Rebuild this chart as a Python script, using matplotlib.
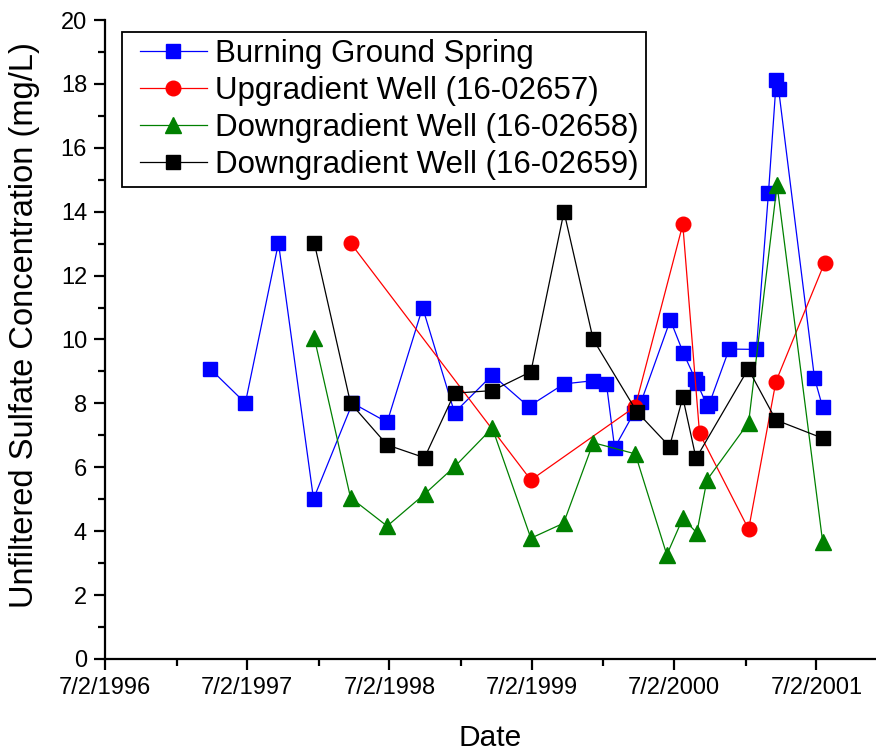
import matplotlib
matplotlib.use("Agg")
import matplotlib.pyplot as plt
import matplotlib.dates as mdates
from matplotlib.lines import Line2D
from matplotlib.legend_handler import HandlerLine2D
import pandas as pd
from matplotlib.ticker import FixedLocator, MultipleLocator

plt.rcParams['font.family'] = ['Liberation Sans', 'DejaVu Sans']

bgs_dates = ["1997-03-29", "1997-06-27", "1997-09-20", "1997-12-19", "1998-03-29",
             "1998-06-26", "1998-09-25", "1998-12-16", "1999-03-23", "1999-06-24",
             "1999-09-23", "1999-12-07", "2000-01-10", "2000-01-31", "2000-03-20",
             "2000-04-08", "2000-06-22", "2000-07-25", "2000-08-25", "2000-08-29",
             "2000-09-25", "2000-10-01", "2000-11-20", "2001-01-29", "2001-03-01",
             "2001-03-21", "2001-03-27", "2001-06-27", "2001-07-18"]
bgs_vals = [9.08, 8.01, 13.02, 5.01, 8.01, 7.41, 11.0, 7.71, 8.89, 7.90,
            8.61, 8.71, 8.61, 6.61, 7.69, 8.05, 10.61, 9.59, 8.76, 8.65,
            7.92, 8.02, 9.70, 9.69, 14.6, 18.12, 17.83, 8.80, 7.88]

up_dates = ["1998-03-24", "1999-06-30", "2000-03-24", "2000-07-24", "2000-09-05",
            "2001-01-09", "2001-03-20", "2001-07-23"]
up_vals = [13.02, 5.60, 7.90, 13.6, 7.06, 4.06, 8.68, 12.40]

dn58_dates = ["1997-12-21", "1998-03-24", "1998-06-26", "1998-09-30", "1998-12-18",
              "1999-03-23", "1999-06-30", "1999-09-22", "1999-12-07", "2000-03-24",
              "2000-06-13", "2000-07-24", "2000-08-29", "2000-09-24", "2001-01-09",
              "2001-03-23", "2001-07-18"]
dn58_vals = [10.05, 5.05, 4.16, 5.16, 6.04, 7.23, 3.78, 4.25, 6.77, 6.42,
             3.26, 4.40, 3.95, 5.60, 7.40, 14.84, 3.67]

dn59_dates = ["1997-12-21", "1998-03-24", "1998-06-26", "1998-09-30", "1998-12-16",
              "1999-03-23", "1999-06-30", "1999-09-23", "1999-12-07", "2000-03-28",
              "2000-06-20", "2000-07-24", "2000-08-27", "2001-01-08", "2001-03-20",
              "2001-07-18"]
dn59_vals = [13.02, 8.01, 6.70, 6.30, 8.32, 8.40, 8.99, 14.0, 10.0, 7.74,
             6.65, 8.19, 6.28, 9.08, 7.48, 6.91]

labels = ["Burning Ground Spring", "Upgradient Well (16-02657)",
          "Downgradient Well (16-02658)", "Downgradient Well (16-02659)"]
xtick_dates = ["1996-07-02", "1997-07-02", "1998-07-02", "1999-07-02", "2000-07-02", "2001-07-02"]
xtick_labels = ["7/2/1996", "7/2/1997", "7/2/1998", "7/2/1999", "7/2/2000", "7/2/2001"]
xminor_dates = ["1997-01-02", "1998-01-02", "1999-01-02", "2000-01-02", "2001-01-02", "2002-01-02"]

fig = plt.figure(figsize=(8.76, 7.52), dpi=100)
ax = fig.add_axes([0.12, 0.1237, 0.88, 0.8497])

series = [
    (bgs_dates, bgs_vals, 'blue', 's', 9.5),
    (up_dates, up_vals, 'red', 'o', 10.5),
    (dn58_dates, dn58_vals, 'green', '^', 11.5),
    (dn59_dates, dn59_vals, 'black', 's', 9.5),
]
for (d, v, c, m, ms), lab in zip(series, labels):
    ax.plot(pd.to_datetime(d), v, color=c, marker=m, markersize=ms,
            markeredgecolor=c, linewidth=0.9, label=lab)

ax.set_xlim(pd.Timestamp("1996-07-02"), pd.Timestamp("2001-12-02"))
ax.set_ylim(0, 20)

ax.xaxis.set_major_locator(FixedLocator(mdates.date2num(pd.to_datetime(xtick_dates))))
ax.set_xticklabels(xtick_labels)
ax.xaxis.set_minor_locator(FixedLocator(mdates.date2num(pd.to_datetime(xminor_dates))))
ax.yaxis.set_major_locator(MultipleLocator(2))
ax.yaxis.set_minor_locator(MultipleLocator(1))

for s in ['top', 'right']:
    ax.spines[s].set_visible(False)
for s in ['left', 'bottom']:
    ax.spines[s].set_linewidth(1.6)

ax.tick_params(which='major', direction='out', length=8, width=1.6, labelsize=17, pad=5)
ax.tick_params(which='minor', direction='out', length=5, width=1.6)

ax.set_xlabel("Date", fontsize=21.5, labelpad=18)
ax.set_ylabel("Unfiltered Sulfate Concentration (mg/L)", fontsize=23.5)
ax.yaxis.set_label_coords(-0.0843, 0.5227)

leg = ax.legend(loc='upper left', bbox_to_anchor=(0.022, 0.981), borderaxespad=0,
                fontsize=22.5, numpoints=1, handlelength=2.5, handletextpad=0.26,
                labelspacing=0.22, borderpad=0.22, fancybox=False, framealpha=1,
                edgecolor='black',
                handler_map={Line2D: HandlerLine2D(xpad=0.35, numpoints=1)})
leg.get_frame().set_linewidth(1.3)

fig.savefig("out.png", dpi=100)
